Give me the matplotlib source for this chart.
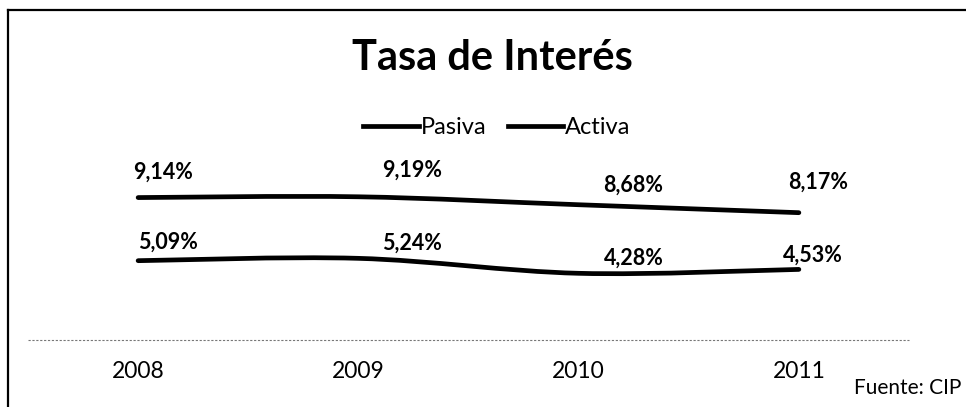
import matplotlib
matplotlib.use("Agg")
import matplotlib.pyplot as plt
from matplotlib.path import Path
from matplotlib.patches import PathPatch
from matplotlib.lines import Line2D
import numpy as np

years = ["2008", "2009", "2010", "2011"]
activa = [9.14, 9.19, 8.68, 8.17]
pasiva = [5.09, 5.24, 4.28, 4.53]
activa_labels = ["9,14%", "9,19%", "8,68%", "8,17%"]
pasiva_labels = ["5,09%", "5,24%", "4,28%", "4,53%"]

# label offsets in pixels (style only)
activa_off = [(25, 25), (54, 27), (55, 20), (19, 30)]
pasiva_off = [(30, 18), (54, 15), (55, 15), (14, 14)]

FONT = "Lato"
plt.rcParams["font.family"] = [FONT, "DejaVu Sans"]

fig = plt.figure(figsize=(9.66, 4.07), dpi=100)
ax = fig.add_axes([28 / 966, 1 - 340 / 407, 881 / 966, 187 / 407])
ax.set_xlim(-0.5, 3.5)
ax.set_ylim(0, 12)
ax.axis("off")


def smooth_path(xs, ys):
    pts = np.column_stack([xs, ys]).astype(float)
    n = len(pts)
    verts = [pts[0]]
    codes = [Path.MOVETO]
    for i in range(n - 1):
        p0 = pts[i - 1] if i > 0 else pts[i]
        p1 = pts[i]
        p2 = pts[i + 1]
        p3 = pts[i + 2] if i + 2 < n else pts[i + 1]
        c1 = p1 + (p2 - p0) / 6.0
        c2 = p2 - (p3 - p1) / 6.0
        verts += [c1, c2, p2]
        codes += [Path.CURVE4] * 3
    return Path(verts, codes)


x = np.arange(len(years))
for series in (pasiva, activa):
    patch = PathPatch(smooth_path(x, series), facecolor="none", edgecolor="black",
                      lw=3.4, capstyle="round", joinstyle="round")
    ax.add_patch(patch)

for vals, labs, offs in ((activa, activa_labels, activa_off), (pasiva, pasiva_labels, pasiva_off)):
    for xi, v, lab, off in zip(x, vals, labs, offs):
        ax.annotate(lab, (xi, v), xytext=off, textcoords="offset pixels",
                    ha="center", va="center", fontsize=15.5, fontweight="bold",
                    color="black")

# baseline dotted
ax.plot([-0.5, 3.5], [0, 0], color="#777777", lw=0.8, ls=(0, (2, 1.5)), clip_on=False)

for xi, yr in zip(x, years):
    ax.annotate(yr, (xi, 0), xytext=(0, -32), textcoords="offset pixels",
                ha="center", va="center", fontsize=16.5, color="black")

fig.text(492 / 966, 1 - 58 / 407, "Tasa de Interés", ha="center", va="center",
         fontsize=30, fontweight="bold", color="black")

handles = [Line2D([], [], color="black", lw=3.4), Line2D([], [], color="black", lw=3.4)]
fig.legend(handles, ["Pasiva", "Activa"], loc="center", bbox_to_anchor=(497 / 966, 1 - 128 / 407),
           ncol=2, frameon=False, fontsize=17, handlelength=2.35, handletextpad=0.08,
           columnspacing=0.9)

fig.text(961 / 966, 1 - 388 / 407, "Fuente: CIP", ha="right", va="center", fontsize=15)

# frame lines of the scanned page
fig.add_artist(Line2D([8 / 966, 1.0], [1 - 10 / 407, 1 - 10 / 407], color="black", lw=1.6))
fig.add_artist(Line2D([8 / 966, 8 / 966], [1 - 10 / 407, 0.0], color="black", lw=1.6))

fig.savefig("out.png", dpi=100)
